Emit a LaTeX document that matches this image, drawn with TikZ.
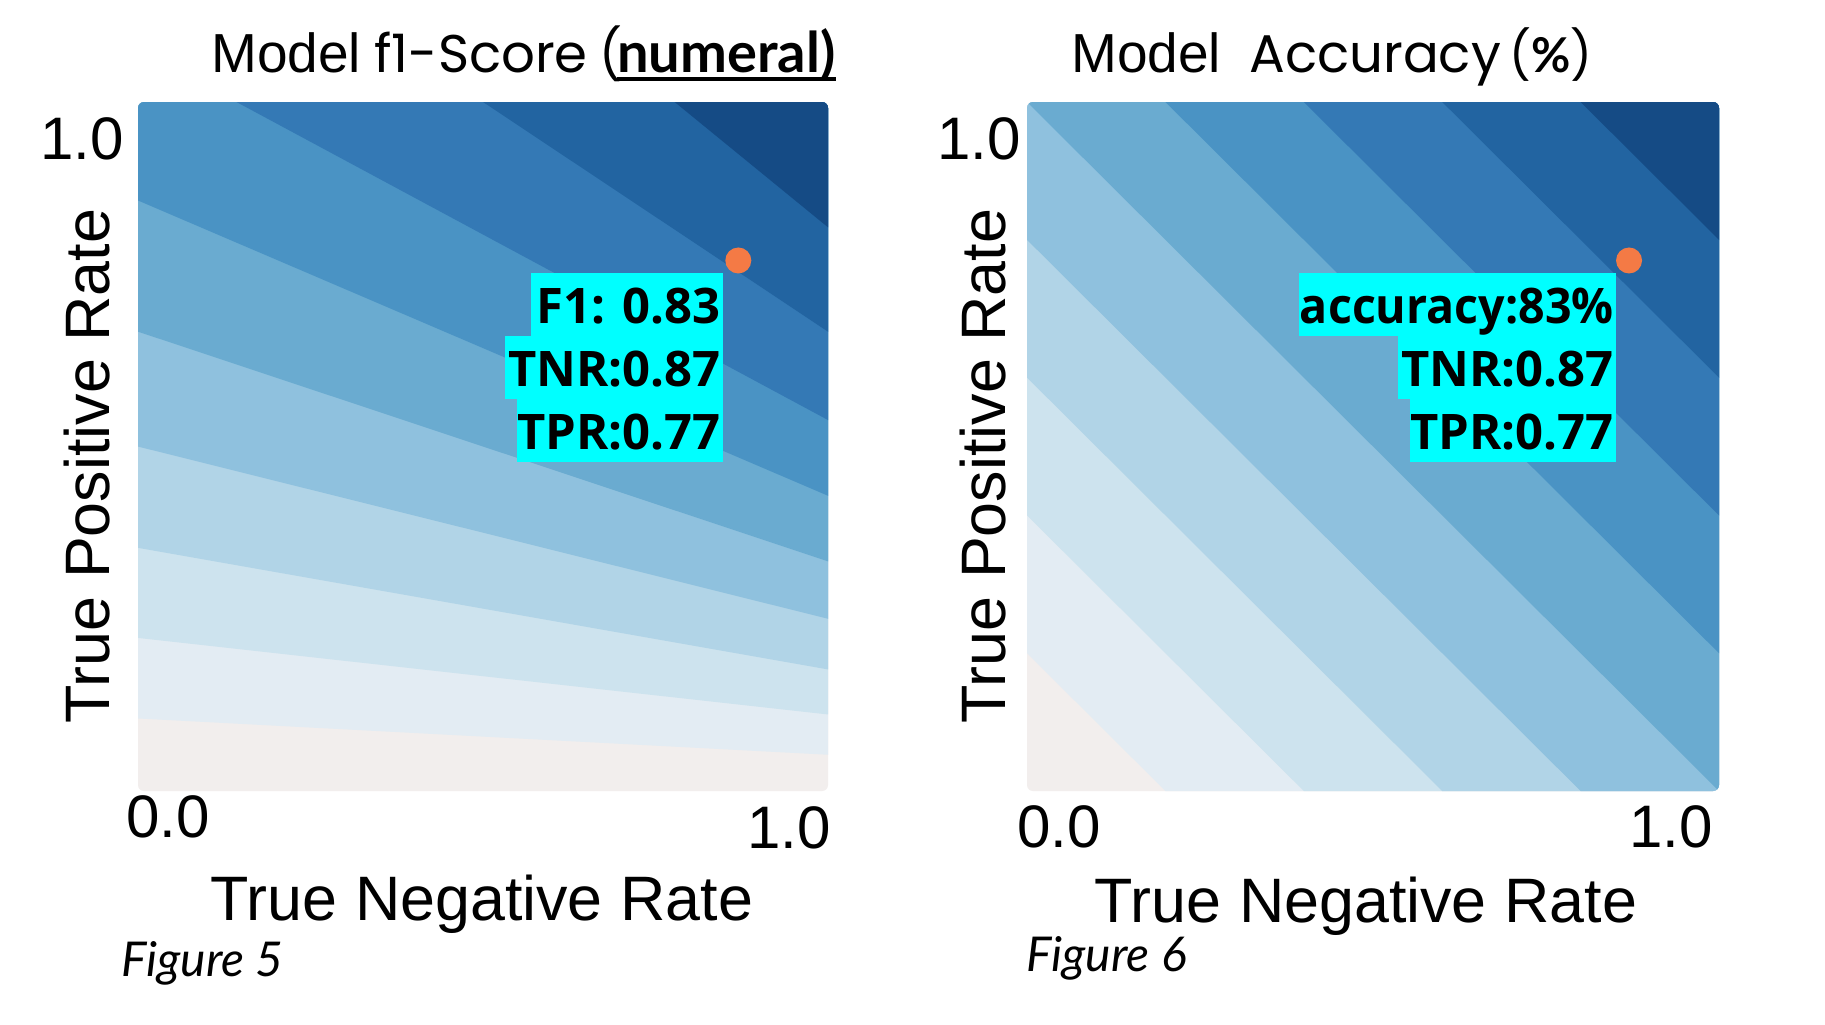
\documentclass[tikz,border=0pt]{standalone}
\usepackage{fontspec}
\setmainfont{Liberation Sans}
\newfontfamily\popfont{Poppins}
\newfontfamily\latofont{Lato}
\newfontfamily\osfont{Open Sans}
\definecolor{b0}{HTML}{F2EEED}
\definecolor{b1}{HTML}{E3ECF3}
\definecolor{b2}{HTML}{CDE3EE}
\definecolor{b3}{HTML}{B1D4E7}
\definecolor{b4}{HTML}{8FC1DE}
\definecolor{b5}{HTML}{6AABD0}
\definecolor{b6}{HTML}{4A93C4}
\definecolor{b7}{HTML}{3479B5}
\definecolor{b8}{HTML}{2264A1}
\definecolor{b9}{HTML}{154B85}
\definecolor{dotorange}{HTML}{F47A45}
\definecolor{boxcyan}{HTML}{00FFFF}
\begin{document}
\begin{tikzpicture}[x=0.5pt,y=-0.5pt,
  axtitle/.style={font=\fontsize{31.4}{36}\selectfont, inner sep=0pt},
  ticklab/.style={font=\fontsize{30}{34}\selectfont, inner sep=0pt},
  boxtxt/.style={font=\osfont\bfseries\fontsize{24.5}{28}\selectfont, inner sep=0pt, anchor=base east},
  figlab/.style={font=\latofont\itshape\fontsize{24}{28}\selectfont, inner sep=0pt, anchor=base west},
  titA/.style={font=\fontsize{27.5}{34}\selectfont, inner sep=0pt, anchor=base west},
  titB/.style={font=\popfont\fontsize{26.5}{30}\selectfont, inner sep=0pt, anchor=base west},
  titC/.style={font=\latofont\bfseries\fontsize{28}{32}\selectfont, inner sep=0pt, anchor=base west},
  infobox/.style={fill=boxcyan},
  mydot/.style={circle, fill=dotorange, minimum size=13pt, inner sep=0pt}]
\useasboundingbox (0,0) rectangle (1825,1024);
\fill[white] (0,0) rectangle (1825,1024);

% ---------- Plot 1: F1 score ----------
\begin{scope}
  \clip[rounded corners=3pt] (138,102) rectangle (828,791);
  \begin{scope}[shift={(138,791)}, xscale=690, yscale=-689]
    \fill[b0] (-0.1,-0.1) rectangle (1.1,1.1);
    \foreach \f/\c in {0.1/b1,0.2/b2,0.3/b3,0.4/b4,0.5/b5,0.6/b6,0.7/b7,0.8/b8,0.9/b9}
      \fill[\c] (-1,{3*\f/(2-\f)}) -- (2,0) -- (2,5) -- (-1,5) -- cycle;
  \end{scope}
\end{scope}
\begin{scope}[shift={(138,791)}, xscale=690, yscale=-689]
  \node[mydot] (dotA) at (0.87,0.77) {};
\end{scope}
\fill[infobox] (531,273) rectangle (723,336);
\fill[infobox] (505,336) rectangle (723,399);
\fill[infobox] (517,399) rectangle (723,462);
\node[boxtxt] (f1txt) at (721,323) {F1: 0.83};
\node[boxtxt] (tnrA) at (721,386) {TNR:0.87};
\node[boxtxt] (tprA) at (721,449) {TPR:0.77};

\node[titA] (modelA) at (211,72) {Model};
\node[titB] (scoreA) at (374,72) {f1-Score};
\node[titB, font=\popfont\fontsize{25}{30}\selectfont] (parA) at (599,72) {(};
\node[titC] (numA) at (617,72) {numeral)};
\draw[line width=2pt] ([yshift=-3.5pt]numA.base west) -- ([yshift=-3.5pt]numA.base east);

\node[ticklab, anchor=base east] (yA) at (124,159) {1.0};
\node[ticklab, anchor=base west] (x0A) at (126,837) {0.0};
\node[ticklab, anchor=base east] (x1A) at (831,848) {1.0};
\node[axtitle, anchor=base] (xtA) at (482,920) {True Negative Rate};
\node[axtitle, anchor=base, rotate=90] (ytA) at (109,466) {True Positive Rate};
\node[figlab] (figA) at (121,976) {Figure 5};

% ---------- Plot 2: Accuracy ----------
\begin{scope}
  \clip[rounded corners=3pt] (1027,102) rectangle (1719,791);
  \begin{scope}[shift={(1027,791)}, xscale=692, yscale=-689]
    \fill[b0] (-0.1,-0.1) rectangle (1.1,1.1);
    \foreach \cc/\c in {0.2/b1,0.4/b2,0.6/b3,0.8/b4,1.0/b5,1.2/b6,1.4/b7,1.6/b8,1.8/b9}
      \fill[\c] ({\cc+1},-1) -- ({\cc-3},3) -- (5,3) -- (5,-1) -- cycle;
  \end{scope}
\end{scope}
\begin{scope}[shift={(1027,791)}, xscale=692, yscale=-689]
  \node[mydot] (dotB) at (0.87,0.77) {};
\end{scope}
\fill[infobox] (1299,273) rectangle (1616,336);
\fill[infobox] (1398,336) rectangle (1616,399);
\fill[infobox] (1410,399) rectangle (1616,462);
\node[boxtxt, xscale=0.95, transform shape] (acctxt) at (1614,323) {accuracy:83\%};
\node[boxtxt] (tnrB) at (1614,386) {TNR:0.87};
\node[boxtxt] (tprB) at (1614,449) {TPR:0.77};

\node[titA] (modelB) at (1071,72) {Model};
\node[titB] (accB) at (1249,72) {Accuracy};
\node[titB, font=\popfont\fontsize{24}{30}\selectfont] (pctB) at (1509,72) {(\textbf{\latofont\%})};

\node[ticklab, anchor=base east] (yB) at (1021,159) {1.0};
\node[ticklab, anchor=base west] (x0B) at (1017,847) {0.0};
\node[ticklab, anchor=base east] (x1B) at (1713,847) {1.0};
\node[axtitle, anchor=base] (xtB) at (1366,922) {True Negative Rate};
\node[axtitle, anchor=base, rotate=90] (ytB) at (1005,466) {True Positive Rate};
\node[figlab] (figB) at (1026,971) {Figure 6};
\end{tikzpicture}
\end{document}
